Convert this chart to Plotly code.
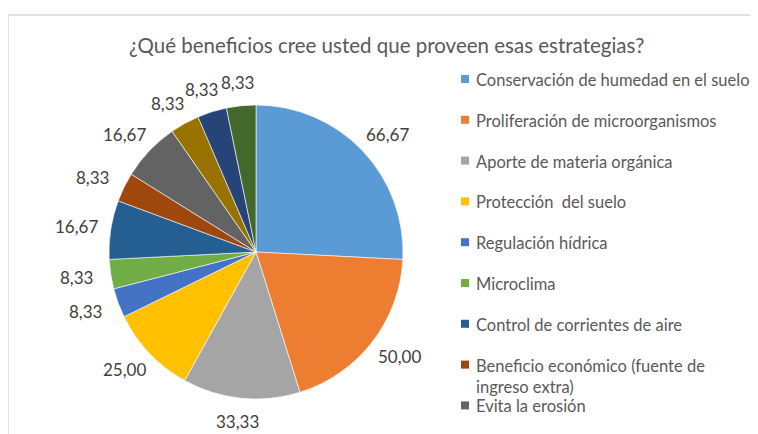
import math
import plotly.graph_objects as go

W, H = 758, 434

title = "¿Qué beneficios cree usted que proveen esas estrategias?"
labels = [
    "Conservación de humedad en el suelo",
    "Proliferación de microorganismos",
    "Aporte de materia orgánica",
    "Protección  del suelo",
    "Regulación hídrica",
    "Microclima",
    "Control de corrientes de aire",
    "Beneficio económico (fuente de<br>ingreso extra)",
    "Evita la erosión",
    "Sombra",
    "Biodiversidad",
    "Mejora la fertilidad",
]
values = [66.67, 50.00, 33.33, 25.00, 8.33, 8.33, 16.67, 8.33, 16.67, 8.33, 8.33, 8.33]
colors = ["#5B9BD5", "#ED7D31", "#A5A5A5", "#FFC000", "#4472C4", "#70AD47",
          "#255E91", "#9E480E", "#636363", "#997300", "#264478", "#43682B"]
n_legend_visible = 9

FONT = "Lato, 'Open Sans', sans-serif"
TEXT = "#595959"
OFF = 8  # page body margin


def px(x):
    return (x - OFF) / W


def py(y):
    return 1 - (y - OFF) / H


# pie placement in page pixels
cx, cy, r = 256, 252, 147

fig = go.Figure()
fig.add_trace(go.Pie(
    labels=labels,
    values=values,
    sort=False,
    direction="clockwise",
    rotation=0,
    marker=dict(colors=colors, line=dict(color="white", width=0.6)),
    textinfo="none",
    showlegend=False,
    hoverinfo="label+value",
    domain=dict(x=[px(cx - r), px(cx + r)], y=[py(cy + r), py(cy - r)]),
))

shapes = [
    # chart area border (cut off at right and bottom)
    dict(type="rect", xref="paper", yref="paper",
         x0=px(8), x1=1.2, y0=-0.2, y1=py(15),
         line=dict(color="#D9D9D9", width=1.5), fillcolor="rgba(0,0,0,0)", layer="below"),
]
annotations = [
    dict(text=title, xref="paper", yref="paper", x=px(386), y=py(45),
         xanchor="center", yanchor="middle", showarrow=False,
         font=dict(family=FONT, size=20.5, color=TEXT)),
]

# outside-end data labels, placed at each slice's mid angle
total = sum(values)
cum = 0
hw, hh, gap = 21, 9, 14
for v in values:
    theta = 2 * math.pi * (cum + v / 2) / total
    cum += v
    s, c = math.sin(theta), math.cos(theta)
    lx = cx + (r + gap) * s + hw * s
    ly = cy - (r + gap) * c - hh * c
    annotations.append(dict(text=f"{v:.2f}".replace(".", ","), xref="paper", yref="paper",
                            x=px(lx), y=py(ly), xanchor="center", yanchor="middle",
                            showarrow=False,
                            font=dict(family=FONT, size=17, color="#404040")))

# manual legend (Excel-style, only the first entries fit)
leg_x, leg_y0, leg_step = 474, 79, 40.8
for i in range(n_legend_visible):
    y = leg_y0 + i * leg_step
    shapes.append(dict(type="rect", xref="paper", yref="paper",
                       x0=px(461), x1=px(469), y0=py(y + 4), y1=py(y - 4),
                       line=dict(width=0), fillcolor=colors[i]))
    annotations.append(dict(text=labels[i], xref="paper", yref="paper",
                            x=px(leg_x), y=py(y - 11), xanchor="left", yanchor="top",
                            align="left", showarrow=False,
                            font=dict(family=FONT, size=16.5, color=TEXT)))

fig.update_layout(
    width=W, height=H,
    margin=dict(l=0, r=0, t=0, b=0),
    paper_bgcolor="white",
    plot_bgcolor="white",
    shapes=shapes,
    annotations=annotations,
)

fig.write_html("out.html")
